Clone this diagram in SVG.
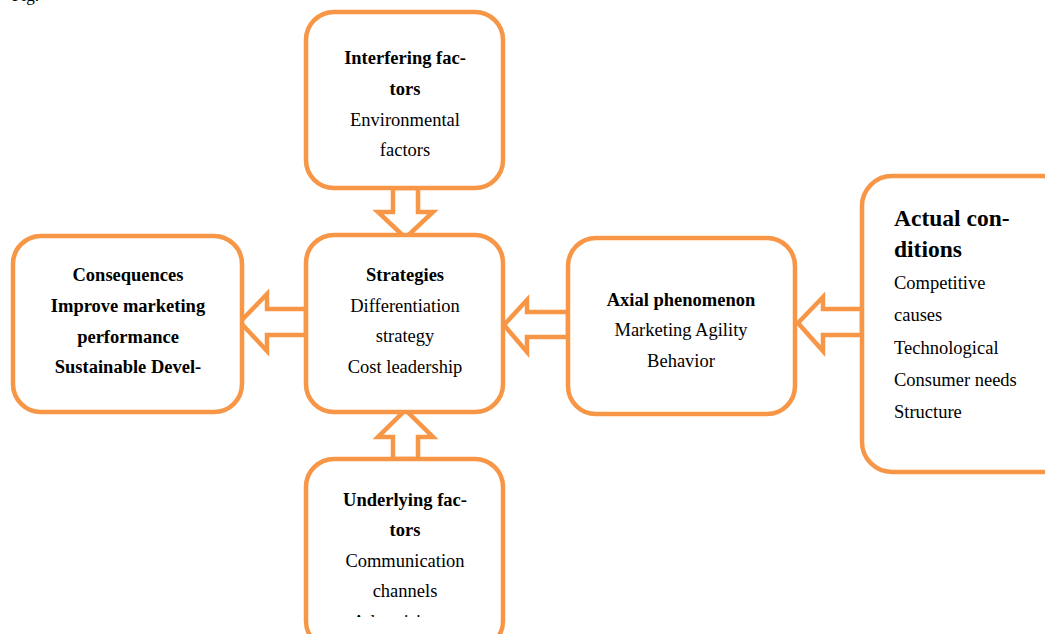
<svg xmlns="http://www.w3.org/2000/svg" width="1045" height="634" viewBox="0 0 1045 634">
<style>
.box{fill:#fff;stroke:#F79646;stroke-width:4.5}
.arr{fill:#fff;stroke:#F79646;stroke-width:4.5;stroke-linejoin:miter}
text{font-family:"Liberation Serif","Times New Roman",serif;font-size:18.5px;fill:#000}
.b{font-weight:bold}
.c{text-anchor:middle}
</style>
<defs>
<clipPath id="ulclip"><rect x="306" y="459" width="198" height="158"/></clipPath>
</defs>
<rect width="1045" height="634" fill="#fff"/>
<text x="12" y="1" style="font-size:17px">Fig.</text>
<g id="connectors">
<polygon class="arr" points="393,188 418,188 418,212 433,212 405.5,238 378,212 393,212"/>
<polygon class="arr" points="393,459 418,459 418,437 433,437 405.5,410 378,437 393,437"/>
<polygon class="arr" points="306,309 267,309 267,294 240,322 267,351 267,335 306,335"/>
<polygon class="arr" points="568,312 527,312 527,300 504,325 527,352 527,337 568,337"/>
<polygon class="arr" points="862,309 823,309 823,297 798,323 823,351 823,335 862,335"/>
</g>
<g id="interfering">
<rect class="box" x="306" y="12" width="197" height="176" rx="28"/>
<text class="b c" x="405" y="64">Interfering fac-</text>
<text class="b c" x="405" y="95">tors</text>
<text class="c" x="405" y="126">Environmental</text>
<text class="c" x="405" y="156">factors</text>
</g>
<g id="strategies">
<rect class="box" x="306" y="235" width="197" height="177" rx="28"/>
<text class="b c" x="405" y="281">Strategies</text>
<text class="c" x="405" y="312">Differentiation</text>
<text class="c" x="405" y="342">strategy</text>
<text class="c" x="405" y="373">Cost leadership</text>
</g>
<g id="consequences">
<rect class="box" x="13" y="236" width="229" height="176" rx="28"/>
<text class="b c" x="128" y="281">Consequences</text>
<text class="b c" x="128" y="312">Improve marketing</text>
<text class="b c" x="128" y="343">performance</text>
<text class="b c" x="128" y="373">Sustainable Devel-</text>
</g>
<g id="axial">
<rect class="box" x="568" y="238" width="227" height="176" rx="28"/>
<text class="b c" x="681" y="306">Axial phenomenon</text>
<text class="c" x="681" y="336">Marketing Agility</text>
<text class="c" x="681" y="367">Behavior</text>
</g>
<g id="actual">
<rect class="box" x="862" y="176" width="210" height="296" rx="30"/>
<text class="b" x="894" y="226" style="font-size:23.5px">Actual con-</text>
<text class="b" x="894" y="257" style="font-size:23.5px">ditions</text>
<text x="894" y="289">Competitive</text>
<text x="894" y="321">causes</text>
<text x="894" y="354">Technological</text>
<text x="894" y="386">Consumer needs</text>
<text x="894" y="418">Structure</text>
</g>
<g id="underlying">
<rect class="box" x="306" y="459" width="197" height="190" rx="28"/>
<text class="b c" x="405" y="506">Underlying fac-</text>
<text class="b c" x="405" y="536">tors</text>
<text class="c" x="405" y="567">Communication</text>
<text class="c" x="405" y="597">channels</text>
<text class="c" x="396" y="628" clip-path="url(#ulclip)">Advertising</text>
</g>
</svg>
